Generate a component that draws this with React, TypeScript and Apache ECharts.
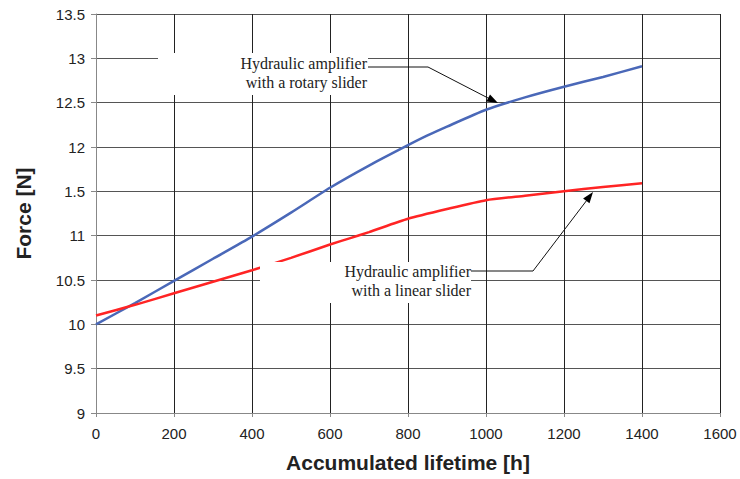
import React, { useEffect, useRef } from "react";
import * as echarts from "echarts";

const lifetimeRotary = [0, 100, 200, 300, 400, 500, 600, 700, 800, 850, 900, 1000, 1100, 1200, 1300, 1400];
const forceRotary = [10.0, 10.24, 10.49, 10.74, 10.99, 11.26, 11.54, 11.79, 12.02, 12.13, 12.23, 12.42, 12.56, 12.68, 12.79, 12.91];

const lifetimeLinear = [0, 100, 200, 300, 400, 500, 600, 650, 700, 800, 900, 1000, 1100, 1200, 1300, 1400];
const forceLinear = [10.1, 10.22, 10.35, 10.48, 10.61, 10.75, 10.9, 10.97, 11.04, 11.19, 11.3, 11.4, 11.45, 11.5, 11.55, 11.59];

const yTickLabels: Record<string, string> = {
  "9": "9", "9.5": "9.5", "10": "10", "10.5": "10.5", "11": "11",
  "11.5": "1.5", "12": "12", "12.5": "12.5", "13": "13", "13.5": "13.5",
};

const annotationRotary = ["Hydraulic amplifier", "with a rotary slider"];
const annotationLinear = ["Hydraulic amplifier", "with a linear slider"];

export default function App() {
  const ref = useRef<HTMLDivElement>(null);
  useEffect(() => {
    if (!ref.current) return;
    const chart = echarts.init(ref.current, null, { renderer: "svg" });
    const serif = "'Liberation Serif', 'Times New Roman', serif";
    const sans = "'Liberation Sans', Arial, sans-serif";
    const textStyle = (x: number, y: number, s: string) => ({
      type: "text", x, y, z: 21,
      style: { text: s, font: `16px ${serif}`, fill: "#222", align: "right", verticalAlign: "middle" },
    });
    chart.setOption({
      animation: false,
      backgroundColor: "#fff",
      grid: { left: 96, right: 20, top: 14, bottom: 66 },
      xAxis: {
        type: "value", min: 0, max: 1600, interval: 200,
        name: "Accumulated lifetime [h]", nameLocation: "middle", nameGap: 39,
        nameTextStyle: { fontFamily: sans, fontSize: 21, fontWeight: "bold", color: "#222" },
        axisLine: { show: true, lineStyle: { color: "#888", width: 1 } },
        axisTick: { show: true, length: 4, lineStyle: { color: "#888" } },
        axisLabel: { fontFamily: sans, fontSize: 15, color: "#222", margin: 13, formatter: (v: number) => String(v) },
        splitLine: { show: true, lineStyle: { color: "#222", width: 1 } },
      },
      yAxis: {
        type: "value", min: 9, max: 13.5, interval: 0.5,
        name: "Force [N]", nameLocation: "middle", nameGap: 62, nameRotate: 90,
        nameTextStyle: { fontFamily: sans, fontSize: 21, fontWeight: "bold", color: "#222" },
        axisLine: { show: true, lineStyle: { color: "#888", width: 1 } },
        axisTick: { show: true, length: 5, lineStyle: { color: "#888" } },
        axisLabel: {
          fontFamily: sans, fontSize: 15, color: "#222", margin: 11,
          formatter: (v: number) => yTickLabels[String(v)] ?? String(v),
        },
        splitLine: { show: true, lineStyle: { color: "#555", width: 1 } },
      },
      series: [
        {
          type: "line", name: "rotary", showSymbol: false, symbol: "none", smooth: 0.2,
          data: lifetimeRotary.map((x, i) => [x, forceRotary[i]]),
          lineStyle: { color: "#4a68b8", width: 2.5 }, z: 3,
        },
        {
          type: "line", name: "linear", showSymbol: false, symbol: "none", smooth: 0.2,
          data: lifetimeLinear.map((x, i) => [x, forceLinear[i]]),
          lineStyle: { color: "#ff2424", width: 2.5 }, z: 3,
        },
      ],
      graphic: [
        { type: "rect", z: 20, shape: { x: 158, y: 53, width: 210, height: 42 }, style: { fill: "#fff" } },
        { type: "rect", z: 20, shape: { x: 260, y: 262, width: 211, height: 41 }, style: { fill: "#fff" } },
        textStyle(367, 63, annotationRotary[0]),
        textStyle(367, 82, annotationRotary[1]),
        textStyle(471, 271, annotationLinear[0]),
        textStyle(471, 290, annotationLinear[1]),
        {
          type: "polyline", z: 21,
          shape: { points: [[368, 67], [428, 67], [489, 98.5]] },
          style: { stroke: "#111", lineWidth: 1, fill: "none" },
        },
        {
          type: "polygon", z: 21,
          shape: { points: [[498, 103], [486.4, 101.6], [490.0, 94.4]] },
          style: { fill: "#000" },
        },
        {
          type: "polyline", z: 21,
          shape: { points: [[471, 271], [533, 271], [587, 200]] },
          style: { stroke: "#111", lineWidth: 1, fill: "none" },
        },
        {
          type: "polygon", z: 21,
          shape: { points: [[593, 192], [589.5, 203.2], [583.1, 198.4]] },
          style: { fill: "#000" },
        },
      ],
    });
    return () => chart.dispose();
  }, []);
  return <div ref={ref} style={{ position: "fixed", left: 0, top: 0, width: 740, height: 479 }} />;
}
